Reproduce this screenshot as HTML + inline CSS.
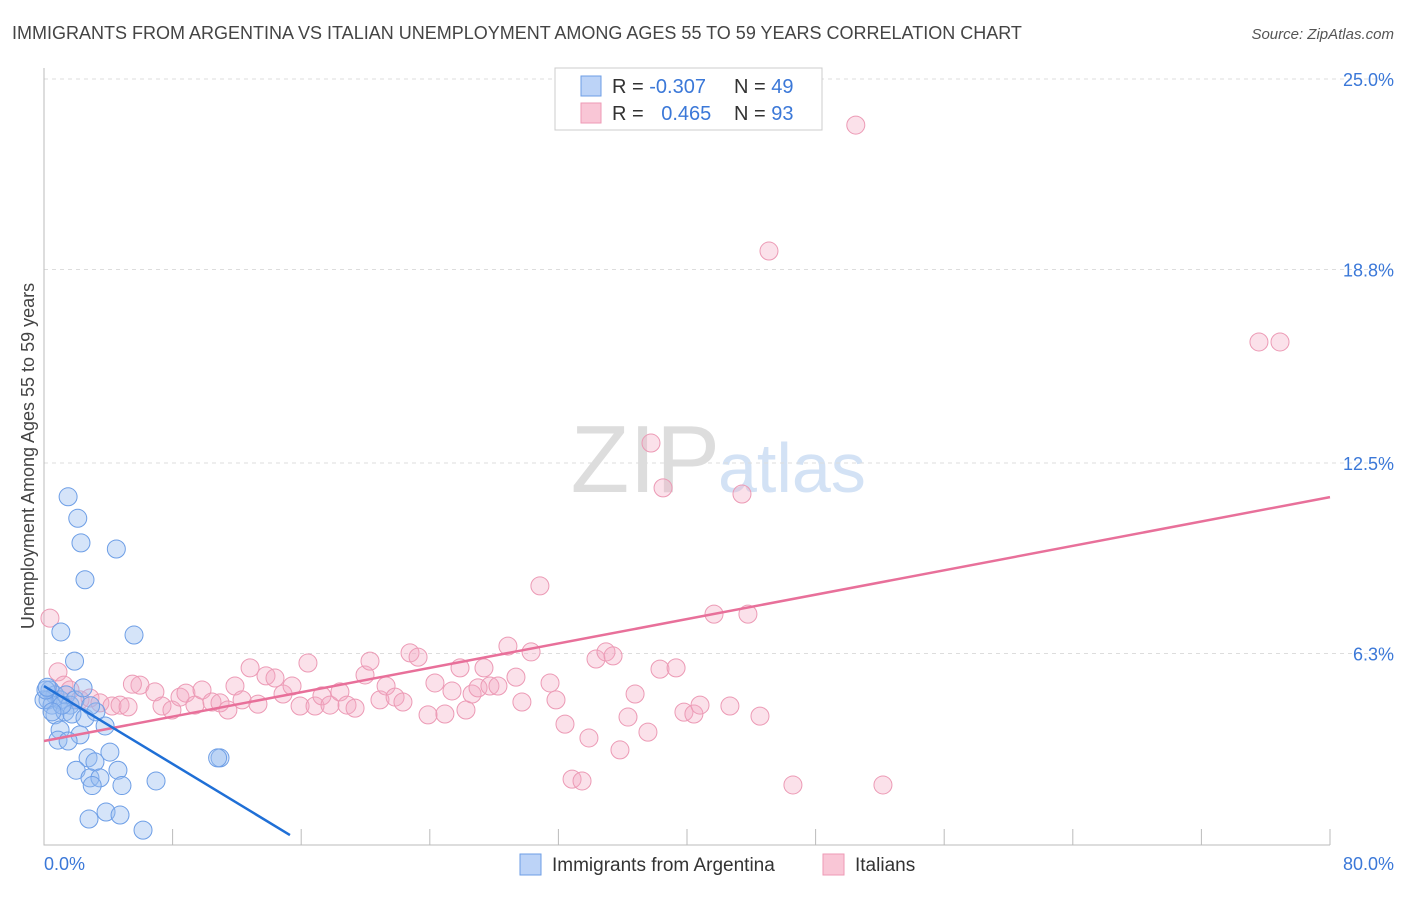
<!DOCTYPE html>
<html><head><meta charset="utf-8"><style>
body{margin:0;background:#fff;font-family:"Liberation Sans",sans-serif}
svg text{font-family:"Liberation Sans",sans-serif}
</style></head><body>
<svg width="1406" height="892">
<text x="12" y="39" font-size="18" fill="#444">IMMIGRANTS FROM ARGENTINA VS ITALIAN UNEMPLOYMENT AMONG AGES 55 TO 59 YEARS CORRELATION CHART</text>
<text x="1394" y="39" font-size="15" fill="#555" font-style="italic" text-anchor="end">Source: ZipAtlas.com</text>
<text x="720" y="492" font-size="96" fill="#ddd" font-family="Liberation Serif" text-anchor="end">ZIP</text>
<text x="718" y="492" font-size="70" fill="#d3e2f5">atlas</text>
<g id="grid"></g>
<g id="axes"></g>
<g id="pts"></g>
<g id="lines"></g>
<text transform="translate(34,456) rotate(-90)" font-size="18" fill="#444" text-anchor="middle">Unemployment Among Ages 55 to 59 years</text>
<text x="44" y="870" font-size="18" fill="#3b78d8">0.0%</text>
<text x="1394" y="870" font-size="18" fill="#3b78d8" text-anchor="end">80.0%</text>
<g>
<rect x="555" y="68" width="267" height="62" fill="#fff" stroke="#ccc"/>
<rect x="581" y="76" width="20" height="20" fill="#bcd3f7" stroke="#6d9ee6"/>
<rect x="581" y="103" width="20" height="20" fill="#f9c6d6" stroke="#ee9ab5"/>
<text x="612" y="93" font-size="20" fill="#333">R = <tspan fill="#3b78d8">-0.307</tspan></text>
<text x="734" y="93" font-size="20" fill="#333">N = <tspan fill="#3b78d8">49</tspan></text>
<text x="612" y="120" font-size="20" fill="#333">R = <tspan fill="#3b78d8" dx="12">0.465</tspan></text>
<text x="734" y="120" font-size="20" fill="#333">N = <tspan fill="#3b78d8">93</tspan></text>
</g>
<g>
<rect x="520" y="854" width="21" height="21" fill="#bcd3f7" stroke="#6d9ee6"/>
<text x="552" y="871" font-size="19" fill="#333">Immigrants from Argentina</text>
<rect x="823" y="854" width="21" height="21" fill="#f9c6d6" stroke="#ee9ab5"/>
<text x="855" y="871" font-size="19" fill="#333">Italians</text>
</g>
</svg>
<script>
const yTicks=[6.3,12.5,18.8,25.0];
const yTickLabels=["6.3%","12.5%","18.8%","25.0%"];
const xTicks=[0,8,16,24,32,40,48,56,64,72,80];
const blueX=[1.5,2.1,2.3,4.5,2.55,5.6,1.05,1.9,0.37,0.68,0.25,0.5,1.0,1.37,1.62,1.93,2.43,0.68,1.3,1.74,2.55,3.23,3.8,1.0,2.24,0.87,1.5,4.1,2.74,3.17,2.0,4.6,2.86,3.48,3.0,4.85,6.97,10.95,10.8,3.86,4.73,2.8,6.16,0.0,0.12,1.12,0.2,0.5,2.9];
const blueY=[11.4,10.7,9.9,9.7,8.7,6.9,7.0,6.05,5.11,4.95,4.79,4.62,4.79,4.95,4.62,4.79,5.18,4.3,4.4,4.33,4.2,4.4,3.94,3.81,3.65,3.48,3.45,3.09,2.9,2.77,2.5,2.5,2.25,2.25,2.0,2.0,2.15,2.9,2.9,1.14,1.04,0.91,0.55,4.79,5.11,4.62,5.2,4.4,4.6];
const pinkX=[0.37,0.87,1.24,1.62,2.24,2.86,3.48,4.23,4.73,5.23,5.97,6.9,7.34,7.96,8.46,8.83,9.39,9.83,10.45,10.95,11.44,11.88,12.32,12.82,13.31,13.81,14.37,14.87,15.43,15.93,16.42,16.86,17.29,17.79,18.41,18.85,19.35,19.97,20.28,20.9,21.28,21.84,22.33,22.77,23.27,23.89,24.32,24.94,25.38,25.88,26.25,26.63,27.0,27.37,27.74,28.24,28.86,29.36,29.73,30.3,30.85,31.48,31.85,32.41,32.85,33.47,33.9,34.34,34.96,35.4,35.83,36.33,36.77,37.57,37.76,38.32,38.51,39.32,39.81,40.43,40.81,41.68,42.67,43.42,43.79,44.54,45.1,46.59,50.5,52.19,75.58,76.89,5.5];
const pinkY=[7.45,5.7,5.27,5.11,4.79,4.85,4.69,4.59,4.62,4.56,5.27,5.05,4.59,4.46,4.88,5.01,4.62,5.11,4.72,4.69,4.46,5.24,4.79,5.83,4.65,5.57,5.5,4.98,5.24,4.59,5.99,4.59,4.92,4.62,5.05,4.62,4.52,5.6,6.05,4.79,5.24,4.88,4.72,6.32,6.18,4.3,5.34,4.33,5.08,5.83,4.46,4.98,5.18,5.83,5.24,5.24,6.54,5.53,4.72,6.35,8.5,5.34,4.79,4.0,2.21,2.15,3.55,6.12,6.35,6.22,3.16,4.23,4.98,3.74,13.15,5.79,11.69,5.83,4.39,4.33,4.62,7.58,4.59,11.49,7.58,4.26,19.4,2.02,23.5,2.02,16.44,16.44,5.3];
const blueTrend=[[0,5.24],[15.3,0.39]];
const pinkTrend=[[0,3.45],[80,11.39]];
const NS="http://www.w3.org/2000/svg";
const X=v=>44+v/80*1286, Y=v=>847-v/6.25*192;
function mk(t,a,p){const e=document.createElementNS(NS,t);for(const k in a)e.setAttribute(k,a[k]);p.appendChild(e);return e;}
const grid=document.getElementById('grid'),axes=document.getElementById('axes'),pts=document.getElementById('pts'),lines=document.getElementById('lines');
yTicks.forEach((v,i)=>{
 const l=mk('line',{x1:44,x2:1394,y1:Y(v),y2:Y(v),stroke:'#ddd','stroke-dasharray':'4,4'},grid);
 
 
 const t=mk('text',{x:1394,y:Y(v)+7,'font-size':18,fill:'#3b78d8','text-anchor':'end'},grid);
 t.textContent=yTickLabels[i];
 
 
});
const ax=mk('path',{d:'M44,68V845H1330',stroke:'#bbb',fill:'none'},axes);


xTicks.forEach(v=>{
 const t=mk('line',{x1:X(v),x2:X(v),y1:829,y2:845,stroke:'#bbb'},axes);
 
 
});
pinkX.forEach((x,i)=>{
 const c=mk('circle',{cx:X(x),cy:Y(pinkY[i]),r:9,fill:'rgba(244,168,194,0.35)',stroke:'#ec9ab5','stroke-width':1},pts);
 
 
});
blueX.forEach((x,i)=>{
 const c=mk('circle',{cx:X(x),cy:Y(blueY[i]),r:9,fill:'rgba(150,188,240,0.4)',stroke:'#6d9ee6','stroke-width':1},pts);
 
 
});
const pl=mk('line',{x1:X(pinkTrend[0][0]),y1:Y(pinkTrend[0][1]),x2:X(pinkTrend[1][0]),y2:Y(pinkTrend[1][1]),stroke:'#e8709a','stroke-width':2.5},lines);


const bl=mk('line',{x1:X(blueTrend[0][0]),y1:Y(blueTrend[0][1]),x2:X(blueTrend[1][0]),y2:Y(blueTrend[1][1]),stroke:'#1f6fd6','stroke-width':2.5},lines);


</script>
</body></html>
